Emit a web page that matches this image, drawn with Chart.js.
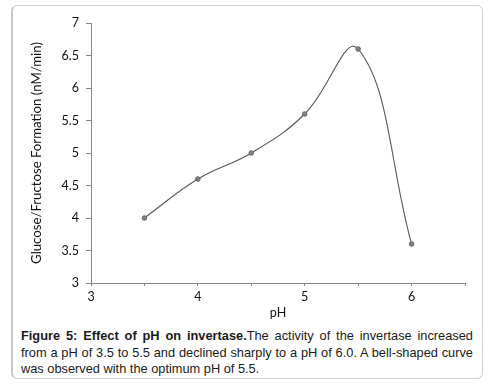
<!DOCTYPE html>
<html>
<head>
<meta charset="utf-8">
<script src="https://cdn.jsdelivr.net/npm/chart.js@4/dist/chart.umd.min.js"></script>
<style>
  html, body { margin: 0; padding: 0; background: #fff; }
  body { width: 490px; height: 388px; position: relative; overflow: hidden; }
  #box { position: absolute; left: 11px; top: 5px; width: 469px; height: 372px;
         border: 1px solid #cfcfcf; border-left: 2px solid #c8c8c8; border-radius: 6px; }
  #wrap { position: absolute; left: 0; top: 0; width: 490px; height: 320px; }
  #cap { position: absolute; left: 21px; top: 328px; width: 452px;
         font-family: "Liberation Sans", Arial, sans-serif; font-size: 12.8px; line-height: 16.5px;
         color: #1a1a1a; }
  #cap div { white-space: nowrap; }
  #cap .j { text-align: justify; text-align-last: justify; }
  #cap b { font-weight: bold; }
</style>
</head>
<body>
<div id="box"></div>
<div id="wrap"><canvas id="c" width="490" height="320"></canvas></div>
<div id="cap">
  <div class="j"><b>Figure 5: Effect of pH on invertase.</b>The activity of the invertase increased</div>
  <div class="j">from a pH of 3.5 to 5.5 and declined sharply to a pH of 6.0. A bell-shaped curve</div>
  <div>was observed with the optimum pH of 5.5.</div>
</div>
<script>
const phValues = [3.5, 4.0, 4.5, 5.0, 5.5, 6.0];
const formation = [4.0, 4.6, 5.0, 5.6, 6.6, 3.6];
const xTickLabels = [3, 4, 5, 6];
const xTitle = "pH";
const yTitle = "Glucose/Fructose Formation (nM/min)";

const tickFont = { family: "Lato, 'Open Sans', sans-serif", size: 12.5 };

new Chart(document.getElementById('c'), {
  type: 'line',
  data: {
    datasets: [{
      data: phValues.map((x, i) => ({ x: x, y: formation[i] })),
      borderColor: '#555',
      borderWidth: 1.1,
      tension: 0.42,
      pointRadius: 2.3,
      pointBackgroundColor: '#808080',
      pointBorderColor: '#666',
      pointBorderWidth: 1,
      fill: false
    }]
  },
  options: {
    responsive: false,
    animation: false,
    devicePixelRatio: 1,
    layout: { padding: { left: 0, top: 23, right: 25, bottom: 0 } },
    plugins: { legend: { display: false }, tooltip: { enabled: false } },
    scales: {
      x: {
        type: 'linear',
        min: 3, max: 6.5,
        afterFit: s => { s.height = 37; },
        border: { color: '#888', width: 1 },
        grid: { drawOnChartArea: false, drawTicks: true, tickLength: 3, color: '#888' },
        ticks: {
          stepSize: 0.5,
          autoSkip: false,
          maxRotation: 0,
          padding: 3,
          color: '#111',
          font: tickFont,
          callback: v => xTickLabels.includes(v) ? String(v) : ''
        },
        title: { display: true, text: xTitle, color: '#111', font: tickFont, padding: { top: 0, bottom: 0 } }
      },
      y: {
        min: 3, max: 7,
        afterFit: s => { s.width = 91; },
        border: { color: '#888', width: 1 },
        grid: { drawOnChartArea: false, drawTicks: true, tickLength: 5, color: '#888' },
        ticks: {
          stepSize: 0.5,
          padding: 7,
          color: '#111',
          font: tickFont,
          callback: v => String(v)
        },
        title: { display: true, text: yTitle, color: '#111', font: { family: tickFont.family, size: 13.2 }, padding: { top: 29, bottom: 0 } }
      }
    }
  }
});
</script>
</body>
</html>
